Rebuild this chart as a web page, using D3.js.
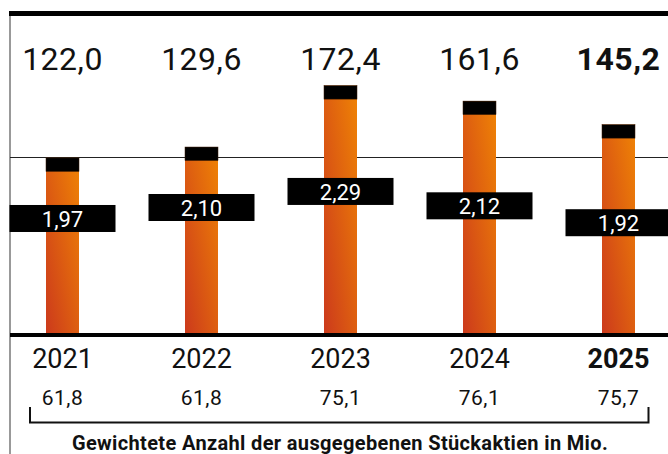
<!DOCTYPE html>
<html>
<head>
<meta charset="utf-8">
<script src="https://cdn.jsdelivr.net/npm/d3@7"></script>
<style>
  body { margin: 0; background: #fff; }
  svg { display: block; font-family: Roboto, "DejaVu Sans", sans-serif; }
</style>
</head>
<body>
<div id="chart"></div>
<script>
// data
const years = ["2021", "2022", "2023", "2024", "2025"];
const totals = [122.0, 129.6, 172.4, 161.6, 145.2];      // value above each bar
const dividends = [1.97, 2.10, 2.29, 2.12, 1.92];        // black boxes
const shares = [61.8, 61.8, 75.1, 76.1, 75.7];           // row under the years
const caption = "Gewichtete Anzahl der ausgegebenen Stückaktien in Mio.";

const width = 668, height = 454;
const fmt = v => v.toFixed(1).replace(".", ",");
const fmt2 = v => v.toFixed(2).replace(".", ",");

const svg = d3.select("#chart").append("svg")
  .attr("width", width)
  .attr("height", height);

const defs = svg.append("defs");
const grad = defs.append("linearGradient")
  .attr("id", "barGrad")
  .attr("x1", 1).attr("y1", 0)
  .attr("x2", 0).attr("y2", 1);
grad.append("stop").attr("offset", 0).attr("stop-color", "#ef8305");
grad.append("stop").attr("offset", 1).attr("stop-color", "#cc3a1c");

const x = d3.scalePoint()
  .domain(years)
  .range([62.5, 618.5]);

const y = d3.scaleLinear()
  .domain([0, 180])
  .range([333, 74.7]);

// dividend boxes have their own scale
const yd = d3.scaleLinear()
  .domain([1.9, 2.3])
  .range([224.4, 190.6]);

const barW = 33;
const capH = 13.5;

// frame
svg.append("line")
  .attr("x1", 10).attr("x2", 10)
  .attr("y1", 14).attr("y2", height)
  .attr("stroke", "#777").attr("stroke-width", 1.5);

svg.append("rect")
  .attr("x", 9).attr("y", 11)
  .attr("width", width - 9).attr("height", 5)
  .attr("fill", "#000");

// thin reference line
svg.append("line")
  .attr("x1", 10).attr("x2", width)
  .attr("y1", 157.5).attr("y2", 157.5)
  .attr("stroke", "#222").attr("stroke-width", 1);

// bars
svg.selectAll(".bar")
  .data(totals)
  .enter()
  .append("rect")
  .attr("class", "bar")
  .attr("x", (d, i) => x(years[i]) - barW / 2)
  .attr("y", d => y(d))
  .attr("width", barW)
  .attr("height", d => y(0) - y(d))
  .attr("fill", "url(#barGrad)");

svg.selectAll(".cap")
  .data(totals)
  .enter()
  .append("rect")
  .attr("class", "cap")
  .attr("x", (d, i) => x(years[i]) - barW / 2)
  .attr("y", d => y(d))
  .attr("width", barW)
  .attr("height", capH)
  .attr("fill", "#000")
  .attr("stroke", "#3a1a05")
  .attr("stroke-width", 0.5);

// baseline
svg.append("rect")
  .attr("x", 10).attr("y", y(0))
  .attr("width", width - 10).attr("height", 4)
  .attr("fill", "#000");

// dividend boxes
const boxW = 106, boxH = 27;
const boxes = svg.selectAll(".div")
  .data(dividends)
  .enter()
  .append("g")
  .attr("class", "div")
  .attr("transform", (d, i) => `translate(${x(years[i])},${yd(d)})`);

boxes.append("rect")
  .attr("x", -boxW / 2).attr("y", -boxH / 2)
  .attr("width", boxW).attr("height", boxH)
  .attr("fill", "#000");

boxes.append("text")
  .attr("text-anchor", "middle")
  .attr("dy", "0.38em")
  .attr("fill", "#fff")
  .style("font-size", "22px")
  .text(d => fmt2(d));

// totals on top
svg.selectAll(".total")
  .data(totals)
  .enter()
  .append("text")
  .attr("class", "total")
  .attr("x", (d, i) => x(years[i]))
  .attr("y", 70)
  .attr("text-anchor", "middle")
  .style("font-size", "32px")
  .style("font-weight", (d, i) => i === years.length - 1 ? 700 : 400)
  .style("letter-spacing", "0.5px")
  .attr("fill", "#111")
  .text(d => fmt(d));

// years
svg.selectAll(".year")
  .data(years)
  .enter()
  .append("text")
  .attr("class", "year")
  .attr("x", d => x(d))
  .attr("y", 367.5)
  .attr("text-anchor", "middle")
  .style("font-size", "27px")
  .style("font-weight", (d, i) => i === years.length - 1 ? 700 : 400)
  .attr("fill", "#111")
  .text(d => d);

// shares row
svg.selectAll(".share")
  .data(shares)
  .enter()
  .append("text")
  .attr("class", "share")
  .attr("x", (d, i) => x(years[i]))
  .attr("y", 405)
  .attr("text-anchor", "middle")
  .style("font-size", "21px")
  .style("letter-spacing", "0.5px")
  .attr("fill", "#111")
  .text(d => fmt(d));

// bracket under the shares row
svg.append("path")
  .attr("d", "M30,407 V422.5 H648.5 V407")
  .attr("fill", "none")
  .attr("stroke", "#111")
  .attr("stroke-width", 2);

svg.append("text")
  .attr("x", 340)
  .attr("y", 450)
  .attr("text-anchor", "middle")
  .style("font-size", "20px")
  .style("font-weight", 700)
  .style("letter-spacing", "0.35px")
  .attr("fill", "#111")
  .text(caption);
</script>
</body>
</html>
